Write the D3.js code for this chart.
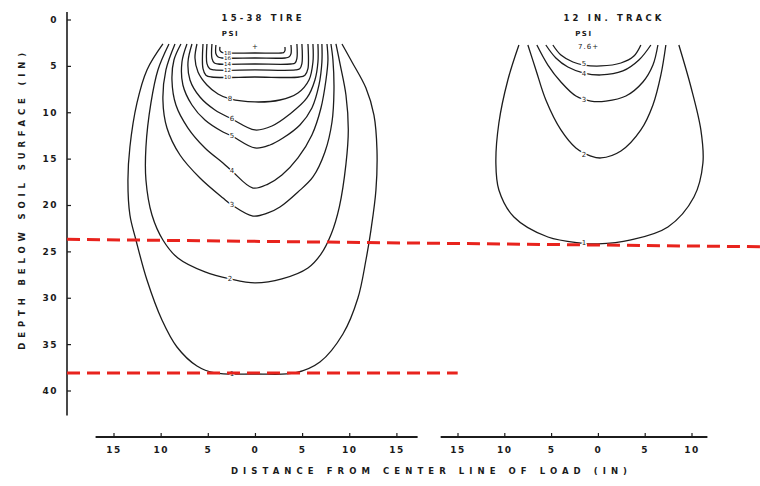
<!DOCTYPE html>
<html><head><meta charset="utf-8">
<script src="https://cdn.jsdelivr.net/npm/d3@7/dist/d3.min.js"></script>
<style>
html,body{margin:0;padding:0;background:#fff;}
svg{display:block;}
text{font-family:"DejaVu Sans",sans-serif;fill:#1a1a1a;}
</style></head>
<body>
<svg id="chart" width="760" height="486"></svg>
<script>
// ---------- DATA (inches) ----------
const yTicks = [0,5,10,15,20,25,30,35,40];
const tireTicks = [-15,-10,-5,0,5,10,15];
const trackTicks = [-15,-10,-5,0,5,10];

const tireLevels = ["1","2","3","4","5","6","8","10","12","14","16","18"];
const trackLevels = ["1","2","3","4","5"];

// tire contours: [distance from centre line, depth]
const tire1 = [[-9.76,2.64],[-11.45,5.44],[-12.51,9.0],[-13.26,13.75],[-13.47,17.3],[-13.26,21.08],[-12.62,23.77],[-11.45,28.09],[-9.86,32.4],[-8.27,35.31],[-6.15,37.36],[-4.24,38.11],[0,38.22],[4.24,38.11],[6.89,36.93],[9.33,33.91],[10.92,30.03],[11.77,25.93],[12.3,22.7],[12.83,18.38],[12.94,14.07],[12.62,10.3],[11.77,7.39],[10.29,4.58],[9.23,2.64]];
const tire2 = [[-9.12,2.64],[-10.29,5.44],[-11.03,9.0],[-11.56,13.75],[-11.56,17.3],[-10.92,21.08],[-9.76,23.77],[-8.17,25.72],[-5.3,27.22],[-2.65,27.97],[0,28.4],[2.86,27.97],[5.62,26.79],[7.0,25.3],[8.1,23.1],[8.95,20.2],[9.65,15.6],[9.9,11.9],[9.65,8.14],[9.05,4.91],[8.59,2.64]];
const tire3 = [[-8.48,2.64],[-9.44,5.44],[-9.76,8.68],[-9.33,11.7],[-7.95,14.61],[-5.83,17.09],[-3.39,19.25],[-2.44,20.0],[-0.21,21.19],[1.38,20.86],[2.65,20.22],[4.56,18.6],[6.15,16.98],[7.42,14.29],[8.17,11.05],[8.38,7.6],[8.27,4.37],[8.06,2.64]];
const tire4 = [[-7.85,2.64],[-8.59,4.37],[-8.8,6.52],[-8.38,9.22],[-7.1,11.7],[-5.3,13.85],[-3.39,15.47],[-2.44,16.33],[-0.21,18.17],[1.38,17.74],[2.86,16.77],[4.56,14.93],[6.04,12.45],[7.0,9.54],[7.53,6.52],[7.74,4.37],[7.64,2.64]];
const tire5 = [[-7.21,2.64],[-7.74,4.58],[-7.64,7.06],[-6.68,9.22],[-5.3,10.84],[-3.39,12.13],[-2.44,12.56],[0,13.85],[1.59,13.53],[2.97,12.78],[4.77,11.37],[6.04,9.54],[6.79,7.06],[7.1,4.58],[7.1,2.64]];
const tire6 = [[-6.68,2.64],[-7.1,4.58],[-6.89,6.52],[-5.83,8.36],[-4.24,9.76],[-2.44,10.73],[0,11.91],[1.8,11.48],[3.71,10.19],[5.51,8.46],[6.36,6.52],[6.68,4.58],[6.68,2.64]];
const tire8 = [[-6.15,2.64],[-6.36,4.15],[-6.04,5.66],[-5.09,7.06],[-3.92,8.03],[-2.65,8.57],[0,8.89],[2.65,8.68],[4.56,7.92],[5.73,6.52],[6.15,4.58],[6.15,2.64]];
const tire10 = [[-5.51,2.64],[-5.51,5.3],[-5.2,6.0],[-4.6,6.2],[0,6.2],[4.7,6.2],[5.3,6.0],[5.62,5.3],[5.62,2.64]];
const tire12 = [[-5.09,2.64],[-5.09,4.75],[-4.8,5.3],[-4.3,5.44],[0,5.44],[4.3,5.44],[4.75,5.3],[4.98,4.75],[4.98,2.64]];
const tire14 = [[-4.56,2.64],[-4.56,4.2],[-4.3,4.7],[-3.9,4.8],[0,4.8],[3.8,4.8],[4.25,4.7],[4.45,4.2],[4.45,2.64]];
const tire16 = [[-4.14,2.75],[-4.14,3.7],[-3.9,4.05],[-3.5,4.15],[0,4.15],[3.2,4.15],[3.6,4.05],[3.82,3.7],[3.82,2.75]];
const tire18 = [[-3.71,2.96],[-3.71,3.35],[-3.5,3.55],[-3.2,3.61],[0,3.61],[2.8,3.61],[3.05,3.55],[3.18,3.35],[3.18,2.96]];

// track contours
const track1 = [[-8.44,2.75],[-9.62,6.52],[-10.58,11.16],[-10.9,15.47],[-10.58,18.38],[-8.97,21.29],[-5.34,23.45],[-1.82,24.1],[0,24.2],[3.53,23.77],[7.48,22.37],[10.26,19.14],[11.22,15.47],[11.0,11.91],[9.94,7.28],[8.65,2.75]];
const track2 = [[-7.48,2.75],[-6.62,5.44],[-5.56,8.68],[-3.95,11.91],[-2.35,13.85],[-0.75,14.72],[0.32,14.93],[2.46,14.18],[4.59,11.91],[5.88,9.22],[6.73,5.98],[7.26,2.75]];
const track3 = [[-6.52,2.75],[-5.34,4.91],[-3.95,6.74],[-2.35,8.25],[-0.75,8.79],[0.85,8.79],[2.99,8.25],[4.81,6.74],[5.88,4.91],[6.41,2.75]];
const track4 = [[-5.56,2.75],[-4.49,4.15],[-3.21,5.12],[-1.5,5.77],[0.32,5.98],[2.67,5.55],[4.38,4.37],[5.66,2.75]];
const track5 = [[-4.81,2.75],[-3.95,3.83],[-2.67,4.58],[-1.5,4.91],[0.32,5.01],[2.46,4.69],[3.85,3.94],[4.59,2.75]];

// contour label positions [x, depth]
const tireLabelPos = [[-2.44,38.2],[-2.65,27.97],[-2.44,20.0],[-2.44,16.33],[-2.44,12.56],[-2.44,10.73],[-2.65,8.57],[-2.9,6.2],[-2.9,5.44],[-2.9,4.8],[-2.9,4.15],[-2.9,3.61]];
const trackLabelPos = [[-1.5,24.15],[-1.5,14.6],[-1.5,8.7],[-1.5,5.85],[-1.5,4.85]];

// reference (red dashed) depths
const refDepthTop = [23.7, 24.5];   // start, end
const refDepthBottom = [38.1, 38.1];

// ---------- CHART ----------
const svg = d3.select("#chart");
const y = d3.scaleLinear().domain([0,40]).range([19.5,390.5]);
const xTire = d3.scaleLinear().domain([-15,15]).range([113.5,396.4]);
const xTrack = d3.scaleLinear().domain([-15,10]).range([457.5,691.5]);

const ink = "#1c1c1c";
const curve = d3.curveCatmullRom.alpha(0.5);
const lineTire = d3.line().x(d=>xTire(d[0])).y(d=>y(d[1])).curve(curve);
const lineTrack = d3.line().x(d=>xTrack(d[0])).y(d=>y(d[1])).curve(curve);

const tireContours = [tire1,tire2,tire3,tire4,tire5,tire6,tire8,tire10,tire12,tire14,tire16,tire18];
const trackContours = [track1,track2,track3,track4,track5];

svg.append("g").selectAll("path").data(tireContours).join("path")
  .attr("d", lineTire).attr("fill","none").attr("stroke",ink).attr("stroke-width",1.3);
svg.append("g").selectAll("path").data(trackContours).join("path")
  .attr("d", lineTrack).attr("fill","none").attr("stroke",ink).attr("stroke-width",1.3);

function labels(levels, pos, xs, size){
  svg.append("g").selectAll("text").data(levels).join("text")
    .attr("x",(d,i)=>xs(pos[i][0])).attr("y",(d,i)=>y(pos[i][1]))
    .attr("text-anchor","middle").attr("dominant-baseline","central")
    .attr("font-size", (d)=> d.length>1 ? size-1.5 : size)
    .attr("stroke","#fff").attr("stroke-width",2.5).attr("paint-order","stroke")
    .text(d=>d);
}
labels(tireLevels, tireLabelPos, xTire, 7);
labels(trackLevels, trackLabelPos, xTrack, 7);

// small annotations
svg.append("text").attr("x",xTire(0)).attr("y",y(2.95)).attr("text-anchor","middle")
  .attr("dominant-baseline","central").attr("font-size",7).text("+");
svg.append("text").attr("x",xTire(-2.6)).attr("y",y(1.55)).attr("text-anchor","middle")
  .attr("dominant-baseline","central").attr("font-size",7).attr("font-weight","bold").attr("letter-spacing",1.5).text("PSI");
svg.append("text").attr("x",xTrack(-1.5)).attr("y",y(1.55)).attr("text-anchor","middle")
  .attr("dominant-baseline","central").attr("font-size",7).attr("font-weight","bold").attr("letter-spacing",1.5).text("PSI");
svg.append("text").attr("x",xTrack(-1.0)).attr("y",y(2.95)).attr("text-anchor","middle")
  .attr("dominant-baseline","central").attr("font-size",7).attr("letter-spacing",1).text("7.6+");

// panel titles
svg.append("text").attr("x",xTire(0.7)).attr("y",y(-0.15)).attr("text-anchor","middle")
  .attr("dominant-baseline","central").attr("font-size",8.5).attr("font-weight","bold")
  .attr("textLength",80).attr("lengthAdjust","spacing").text("15-38 TIRE");
svg.append("text").attr("x",xTrack(1.55)).attr("y",y(-0.15)).attr("text-anchor","middle")
  .attr("dominant-baseline","central").attr("font-size",8.5).attr("font-weight","bold")
  .attr("textLength",98).attr("lengthAdjust","spacing").text("12 IN. TRACK");

// Y axis
const yAxisX = 67;
const gy = svg.append("g").attr("transform",`translate(${yAxisX},0)`)
  .call(d3.axisLeft(y).tickValues(yTicks).tickSizeInner(-4).tickSizeOuter(0).tickPadding(9));
gy.select(".domain").remove();
gy.selectAll("line").attr("stroke",ink).attr("stroke-width",1.2);
gy.selectAll("text").attr("font-size",9).attr("font-weight","bold").attr("letter-spacing",1.5).attr("fill","#1a1a1a")
  .style("font-family","DejaVu Sans");
gy.append("line").attr("x1",0).attr("x2",0).attr("y1",y(-0.8)).attr("y2",y(42.7))
  .attr("stroke",ink).attr("stroke-width",1.6);

svg.append("text").attr("transform",`translate(22,${(y(3.6)+y(35.6))/2}) rotate(-90)`)
  .attr("text-anchor","middle").attr("dominant-baseline","central").attr("font-size",8.5).attr("font-weight","bold")
  .attr("textLength",y(35.6)-y(3.6)).attr("lengthAdjust","spacing")
  .text("DEPTH BELOW SOIL SURFACE (IN)");

// bottom axes
const axisY = 437;
function bottomAxis(scale, ticks, ext){
  const g = svg.append("g").attr("transform",`translate(0,${axisY})`)
    .call(d3.axisBottom(scale).tickValues(ticks).tickSizeInner(-4).tickSizeOuter(0).tickPadding(10)
      .tickFormat(d=>Math.abs(d)));
  g.select(".domain").remove();
  g.selectAll("line").attr("stroke",ink).attr("stroke-width",1.2);
  g.selectAll("text").attr("font-size",9).attr("font-weight","bold").attr("letter-spacing",1.5).attr("fill","#1a1a1a")
    .style("font-family","DejaVu Sans");
  g.append("line").attr("x1",scale(ext[0])).attr("x2",scale(ext[1])).attr("y1",0).attr("y2",0)
    .attr("stroke",ink).attr("stroke-width",1.8);
}
bottomAxis(xTire, tireTicks, [-16.9, 17.25]);
bottomAxis(xTrack, trackTicks, [-16.8, 11.7]);

svg.append("text").attr("x",429).attr("y",471).attr("text-anchor","middle")
  .attr("dominant-baseline","central").attr("font-size",8.5).attr("font-weight","bold")
  .attr("textLength",396).attr("lengthAdjust","spacing")
  .text("DISTANCE FROM CENTER LINE OF LOAD (IN)");

// red dashed reference lines
svg.append("line").attr("x1",yAxisX).attr("x2",760)
  .attr("y1",y(refDepthTop[0])).attr("y2",y(refDepthTop[1]))
  .attr("stroke","#e8231d").attr("stroke-width",3).attr("stroke-dasharray","13,7");
svg.append("line").attr("x1",yAxisX).attr("x2",xTire(21.5))
  .attr("y1",y(refDepthBottom[0])).attr("y2",y(refDepthBottom[1]))
  .attr("stroke","#e8231d").attr("stroke-width",3).attr("stroke-dasharray","13,7");
</script>
</body></html>
